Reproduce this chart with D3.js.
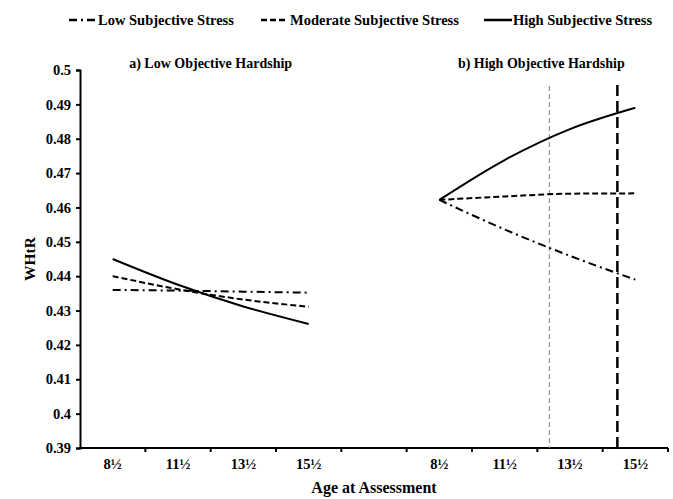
<!DOCTYPE html>
<html>
<head>
<meta charset="utf-8">
<script src="https://cdn.jsdelivr.net/npm/d3@7"></script>
<style>
  body { margin: 0; background: #fff; }
  svg text { font-family: "Liberation Serif", "Times New Roman", serif; font-weight: bold; fill: #000; }
</style>
</head>
<body>
<svg id="chart" width="673" height="499"></svg>
<script>
// --- data ---
const ages = [8.5, 11.5, 13.5, 15.5];
const categories = ['a8', 'a11', 'a13', 'a15', 'gap', 'b8', 'b11', 'b13', 'b15'];
const categoryLabels = ['8½', '11½', '13½', '15½', '', '8½', '11½', '13½', '15½'];
const yTicks = [0.39, 0.4, 0.41, 0.42, 0.43, 0.44, 0.45, 0.46, 0.47, 0.48, 0.49, 0.5];

// a) Low objective hardship
const lowHardshipLow = [0.4360, 0.4358, 0.4355, 0.4352];
const lowHardshipModerate = [0.4400, 0.4362, 0.4332, 0.4311];
const lowHardshipHigh = [0.4450, 0.4375, 0.4312, 0.4261];

// b) High objective hardship
const highHardshipLow = [0.4622, 0.4536, 0.4459, 0.4390];
const highHardshipModerate = [0.4622, 0.4632, 0.4640, 0.4641];
const highHardshipHigh = [0.4622, 0.4738, 0.4828, 0.4890];

// vertical markers in panel b (age)
const markerAges = [12.87, 14.95];

const legendLabels = ['Low Subjective Stress', 'Moderate Subjective Stress', 'High Subjective Stress'];

// --- styles ---
const STYLES = {
    low: { dash: '8,4,2,4', width: 2 },
    moderate: { dash: '6,3', width: 2 },
    high: { dash: null, width: 2 }
};

const svg = d3.select('#chart');
const margin = { left: 80, right: 5, top: 70, bottom: 51 };
const W = 673, H = 499;

const x = d3.scaleBand()
    .domain(categories)
    .range([margin.left, W - margin.right])
    .padding(0);

const y = d3.scaleLinear()
    .domain([0.39, 0.5])
    .range([H - margin.bottom, margin.top]);

const center = c => x(c) + x.bandwidth() / 2;

// age -> px within each panel (categories equally spaced)
const xLow = d3.scaleLinear().domain(ages).range(['a8', 'a11', 'a13', 'a15'].map(center));
const xHigh = d3.scaleLinear().domain(ages).range(['b8', 'b11', 'b13', 'b15'].map(center));

const yBottom = y(0.39);

// --- Y axis ---
const yAxis = svg.append('g')
    .attr('transform', `translate(${margin.left},0)`)
    .call(d3.axisLeft(y).tickValues(yTicks).tickFormat(d => String(+d.toFixed(2))).tickSize(4).tickPadding(5));
yAxis.select('.domain').attr('stroke', '#000').attr('stroke-width', 2);
yAxis.selectAll('.tick line').attr('stroke', '#000').attr('stroke-width', 2);
yAxis.selectAll('.tick text').style('font-size', '14.5px');

svg.append('text')
    .attr('transform', `translate(29,${(y(0.5) + yBottom) / 2}) rotate(-90)`)
    .attr('text-anchor', 'middle')
    .attr('dominant-baseline', 'central')
    .style('font-size', '15.5px')
    .text('WHtR');

// --- X axis: labels centered, tick marks on band edges ---
const xAxis = svg.append('g')
    .attr('transform', `translate(0,${yBottom})`)
    .call(d3.axisBottom(x).tickSize(0).tickPadding(11).tickFormat((d, i) => categoryLabels[i]));
xAxis.select('.domain').remove();
xAxis.selectAll('.tick text').style('font-size', '14.5px');

const edges = categories.map(c => x(c)).concat([x.range()[1]]);
svg.append('line')
    .attr('x1', margin.left - 1).attr('x2', x.range()[1])
    .attr('y1', yBottom).attr('y2', yBottom)
    .attr('stroke', '#000').attr('stroke-width', 2);
svg.selectAll('.xtick')
    .data(edges.slice(1))
    .enter().append('line')
    .attr('class', 'xtick')
    .attr('x1', d => d).attr('x2', d => d)
    .attr('y1', yBottom).attr('y2', yBottom + 4)
    .attr('stroke', '#000').attr('stroke-width', 2);

svg.append('text')
    .attr('x', (x.range()[0] + x.range()[1]) / 2)
    .attr('y', 487)
    .attr('text-anchor', 'middle')
    .attr('dominant-baseline', 'central')
    .style('font-size', '16px')
    .text('Age at Assessment');

// --- panel titles ---
svg.append('text')
    .attr('x', (xLow(8.5) + xLow(15.5)) / 2)
    .attr('y', 63)
    .attr('text-anchor', 'middle')
    .attr('dominant-baseline', 'central')
    .style('font-size', '14px')
    .text('a) Low Objective Hardship');

svg.append('text')
    .attr('x', (xHigh(8.5) + xHigh(15.5)) / 2 + 4)
    .attr('y', 63)
    .attr('text-anchor', 'middle')
    .attr('dominant-baseline', 'central')
    .style('font-size', '14px')
    .text('b) High Objective Hardship');

// --- vertical markers ---
svg.append('line')
    .attr('x1', xHigh(markerAges[0])).attr('x2', xHigh(markerAges[0]))
    .attr('y1', 86).attr('y2', yBottom)
    .attr('stroke', '#999').attr('stroke-width', 1.3)
    .attr('stroke-dasharray', '5,3');
svg.append('line')
    .attr('x1', xHigh(markerAges[1])).attr('x2', xHigh(markerAges[1]))
    .attr('y1', 85).attr('y2', yBottom)
    .attr('stroke', '#000').attr('stroke-width', 2.5)
    .attr('stroke-dasharray', '11,5');

// --- series lines ---
const series = [
    { scale: xLow, values: lowHardshipLow, style: STYLES.low },
    { scale: xLow, values: lowHardshipModerate, style: STYLES.moderate },
    { scale: xLow, values: lowHardshipHigh, style: STYLES.high },
    { scale: xHigh, values: highHardshipLow, style: STYLES.low },
    { scale: xHigh, values: highHardshipModerate, style: STYLES.moderate },
    { scale: xHigh, values: highHardshipHigh, style: STYLES.high }
];

series.forEach(s => {
    const line = d3.line()
        .x((d, i) => s.scale(ages[i]))
        .y(d => y(d))
        .curve(d3.curveMonotoneX);
    svg.append('path')
        .datum(s.values)
        .attr('d', line)
        .attr('fill', 'none')
        .attr('stroke', '#000')
        .attr('stroke-width', s.style.width)
        .attr('stroke-dasharray', s.style.dash);
});

// --- legend ---
const legendItems = [
    { label: legendLabels[0], style: STYLES.low, x0: 69, x1: 97, tx: 98 },
    { label: legendLabels[1], style: STYLES.moderate, x0: 261, x1: 287, tx: 290 },
    { label: legendLabels[2], style: STYLES.high, x0: 484, x1: 512, tx: 513 }
];
const legend = svg.append('g').attr('class', 'legend');
legendItems.forEach(it => {
    legend.append('line')
        .attr('x1', it.x0).attr('x2', it.x1)
        .attr('y1', 20).attr('y2', 20)
        .attr('stroke', '#000').attr('stroke-width', 2.5)
        .attr('stroke-dasharray', it.style.dash);
    legend.append('text')
        .attr('x', it.tx).attr('y', 20)
        .attr('dominant-baseline', 'central')
        .style('font-size', '14.5px')
        .text(it.label);
});
</script>
</body>
</html>
